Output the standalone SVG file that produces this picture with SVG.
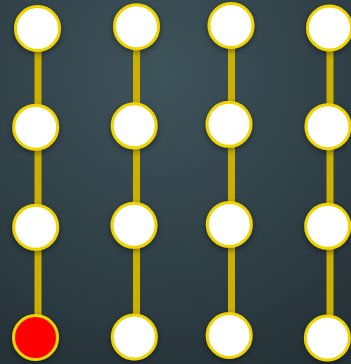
<svg xmlns="http://www.w3.org/2000/svg" width="351" height="364" viewBox="0 0 351 364">
<defs>
<radialGradient id="bg" cx="0.45" cy="0.2" r="0.9">
<stop offset="0" stop-color="#3f535b"/>
<stop offset="1" stop-color="#253238"/>
</radialGradient>
<filter id="sh" x="-50%" y="-50%" width="200%" height="200%">
<feGaussianBlur in="SourceAlpha" stdDeviation="3"/>
<feOffset dx="0" dy="2" result="b"/>
<feComponentTransfer><feFuncA type="linear" slope="0.45"/></feComponentTransfer>
<feMerge><feMergeNode/><feMergeNode in="SourceGraphic"/></feMerge>
</filter>
</defs>
<style>
.c{stroke:#ccb000;stroke-width:7}
.n{fill:#ffffff;stroke:#f0d400;stroke-width:3;filter:url(#sh)}
.r{fill:#ff0000}
</style>
<rect width="351" height="364" fill="url(#bg)"/>
<g id="connectors">
<line class="c" x1="38" y1="28" x2="38" y2="127"/>
<line class="c" x1="38" y1="127" x2="38" y2="227"/>
<line class="c" x1="38" y1="227" x2="38" y2="337"/>
<line class="c" x1="136.5" y1="27" x2="136.5" y2="126"/>
<line class="c" x1="136.5" y1="126" x2="136.5" y2="225"/>
<line class="c" x1="136.5" y1="225" x2="136.5" y2="337"/>
<line class="c" x1="231.5" y1="25" x2="231.5" y2="124"/>
<line class="c" x1="231.5" y1="124" x2="231.5" y2="224"/>
<line class="c" x1="231.5" y1="224" x2="231.5" y2="335"/>
<line class="c" x1="330" y1="28" x2="330" y2="127"/>
<line class="c" x1="330" y1="127" x2="330" y2="226"/>
<line class="c" x1="330" y1="226" x2="330" y2="338"/>
</g>
<g id="n11"><circle class="n" cx="37.5" cy="28.5" r="22"/></g>
<g id="n12"><circle class="n" cx="35.7" cy="127.2" r="22"/></g>
<g id="n13"><circle class="n" cx="35.7" cy="227.2" r="22"/></g>
<g id="n14"><circle class="n r" cx="35.5" cy="337.5" r="22"/></g>
<g id="n21"><circle class="n" cx="136.5" cy="26.7" r="22"/></g>
<g id="n22"><circle class="n" cx="134.2" cy="125.8" r="22"/></g>
<g id="n23"><circle class="n" cx="134" cy="225.3" r="22"/></g>
<g id="n24"><circle class="n" cx="134.3" cy="337" r="22"/></g>
<g id="n31"><circle class="n" cx="231" cy="25.5" r="22"/></g>
<g id="n32"><circle class="n" cx="229" cy="124.3" r="22"/></g>
<g id="n33"><circle class="n" cx="229.3" cy="224.4" r="22"/></g>
<g id="n34"><circle class="n" cx="229.2" cy="335.5" r="22"/></g>
<g id="n41"><circle class="n" cx="329.5" cy="28" r="22"/></g>
<g id="n42"><circle class="n" cx="328" cy="126.7" r="22"/></g>
<g id="n43"><circle class="n" cx="327.7" cy="226.3" r="22"/></g>
<g id="n44"><circle class="n" cx="327.4" cy="338" r="22"/></g>
</svg>
